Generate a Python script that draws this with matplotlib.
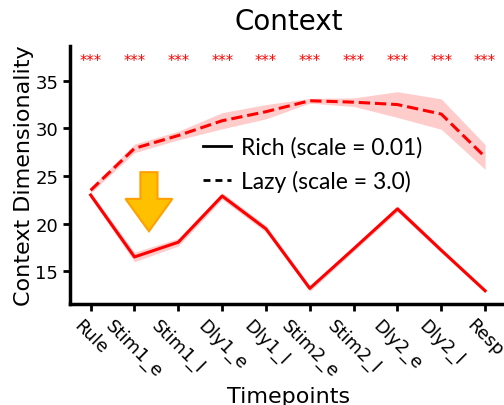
import numpy as np
import matplotlib
matplotlib.use("Agg")
import matplotlib.pyplot as plt
from matplotlib.lines import Line2D
from matplotlib.patches import FancyArrow

# data
timepoints = ["Rule", "Stim1_e", "Stim1_l", "Dly1_e", "Dly1_l",
              "Stim2_e", "Stim2_l", "Dly2_e", "Dly2_l", "Resp"]
rich_mean = [23.0, 16.5, 18.05, 22.9, 19.45, 13.2, 17.35, 21.55, 17.2, 12.95]
rich_err = [0.3, 0.5, 0.4, 0.35, 0.35, 0.3, 0.25, 0.3, 0.25, 0.2]
lazy_mean = [23.5, 27.9, 29.25, 30.8, 31.75, 32.9, 32.75, 32.5, 31.5, 27.0]
lazy_err = [0.3, 0.45, 0.45, 0.85, 0.75, 0.25, 0.45, 1.35, 1.6, 1.3]
signif = ["***"] * 10

x = np.arange(len(timepoints))
rich_mean = np.array(rich_mean)
lazy_mean = np.array(lazy_mean)
rich_err = np.array(rich_err)
lazy_err = np.array(lazy_err)

fig = plt.figure(figsize=(5.04, 4.06), dpi=100)
ax = fig.add_axes([0.139, 0.249, 0.867, 0.636])

ax.fill_between(x, rich_mean - rich_err, rich_mean + rich_err, color="red", alpha=0.2, lw=0)
ax.fill_between(x, lazy_mean - lazy_err, lazy_mean + lazy_err, color="red", alpha=0.2, lw=0)
ax.plot(x, rich_mean, "-", color="red", lw=2.2)
ax.plot(x, lazy_mean, "--", color="red", lw=2.2)

for i, s in enumerate(signif):
    ax.text(x[i], 37.1, s, color="red", fontsize=10.5, ha="center", va="center")

# arrow marking the drop
ax.add_patch(FancyArrow(1.33, 25.4, 0, -6.2, width=0.39, head_width=1.07,
                        head_length=3.4, length_includes_head=True,
                        facecolor="#FFC000", edgecolor="#FFA000", lw=1.5, zorder=5))

handles = [Line2D([], [], color="black", lw=2, ls="-"),
           Line2D([], [], color="black", lw=2, ls=(0, (2.5, 1.8)))]
ax.legend(handles, ["Rich (scale = 0.01)", "Lazy (scale = 3.0)"],
          prop={"family": "Lato", "size": 16.5}, frameon=False,
          loc="upper left", bbox_to_anchor=(0.258, 0.73),
          handlelength=1.2, handletextpad=0.45, labelspacing=0.55)

ax.set_xlim(-0.47, 9.5)
ax.set_ylim(11.57, 38.68)
ax.set_yticks([15, 20, 25, 30, 35])
ax.set_xticks(x)
ax.set_xticklabels(timepoints, rotation=-45)
ax.tick_params(labelsize=13, width=2, length=5)
for sp in ["top", "right"]:
    ax.spines[sp].set_visible(False)
for sp in ["left", "bottom"]:
    ax.spines[sp].set_linewidth(2.5)

ax.set_title("Context", fontsize=20, pad=12)
ax.set_xlabel("Timepoints", fontsize=16, labelpad=4)
ax.set_ylabel("Context Dimensionality", fontsize=16, labelpad=1)

fig.savefig("out.png", dpi=100)
